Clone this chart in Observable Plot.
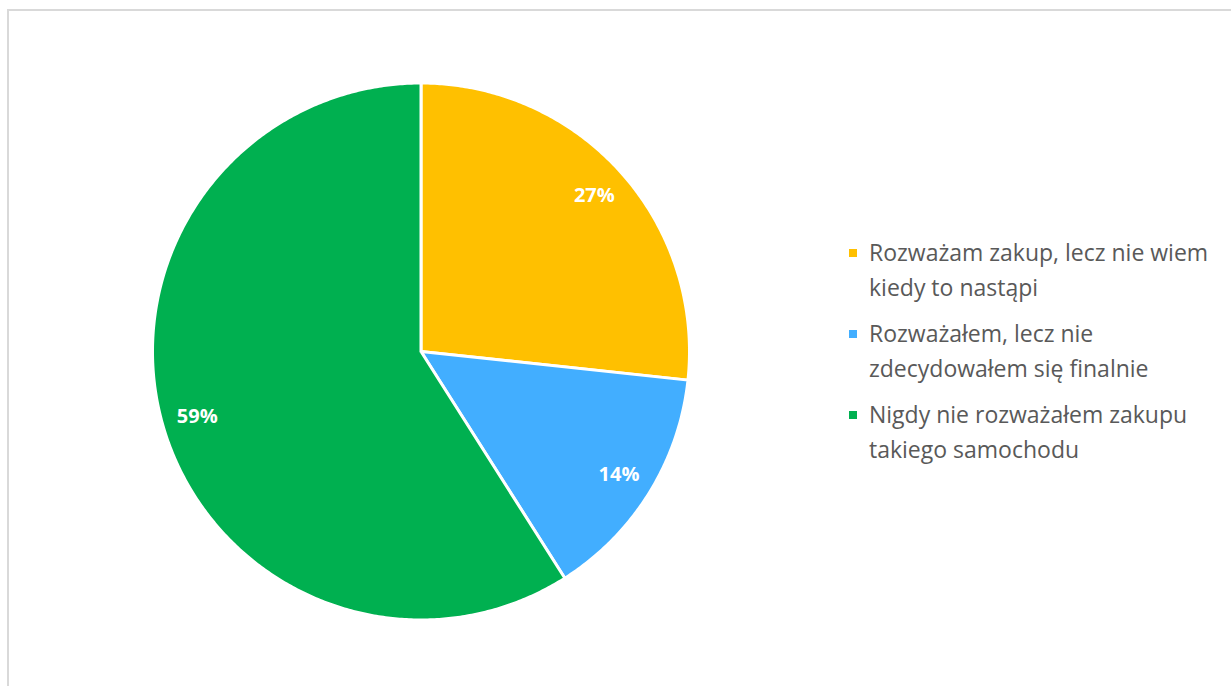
<!DOCTYPE html>
<html>
<head>
<meta charset="utf-8">
<script src="https://cdn.jsdelivr.net/npm/d3@7"></script>
<script src="https://cdn.jsdelivr.net/npm/@observablehq/plot@0.6"></script>
<style>
  html, body { margin: 0; padding: 0; background: #fff; }
  #wrap { position: relative; width: 1231px; height: 686px; overflow: hidden; background: #fff; }
  #frame { position: absolute; left: 7px; top: 9px; width: 1300px; height: 800px; border: 2px solid #d9d9d9; box-sizing: border-box; }
  #chart { position: absolute; left: 0; top: 0; }
  #legend { position: absolute; left: 849px; top: 235px; font-family: "Open Sans", sans-serif; font-size: 23px; color: #595959; }
  .item { position: relative; padding-left: 20px; line-height: 35px; margin-bottom: 11px; width: 380px; white-space: nowrap; }
  .sw { position: absolute; left: 0; top: 14px; width: 8px; height: 8px; }
</style>
</head>
<body>
<div id="wrap">
  <div id="frame"></div>
  <div id="chart"></div>
  <div id="legend"></div>
</div>
<script>
const categories = [
  "Rozważam zakup, lecz nie wiem kiedy to nastąpi",
  "Rozważałem, lecz nie zdecydowałem się finalnie",
  "Nigdy nie rozważałem zakupu takiego samochodu"
];
const legendLines = [
  ["Rozważam zakup, lecz nie wiem", "kiedy to nastąpi"],
  ["Rozważałem, lecz nie", "zdecydowałem się finalnie"],
  ["Nigdy nie rozważałem zakupu", "takiego samochodu"]
];
const values = [26.7, 14.3, 59.0];
const labels = ["27%", "14%", "59%"];
const colors = ["#FFC000", "#42AEFF", "#00B050"];

const arcs = d3.pie().sort(null).value(d => d)(values);

// polygon outlines of slices (derived from the pie angles)
const pts = [];
arcs.forEach((a, i) => {
  const cat = categories[i];
  pts.push({cat, x: 0, y: 0});
  const n = Math.max(2, Math.ceil((a.endAngle - a.startAngle) / (Math.PI / 360)));
  for (let k = 0; k <= n; k++) {
    const t = a.startAngle + (a.endAngle - a.startAngle) * k / n;
    pts.push({cat, x: Math.sin(t), y: Math.cos(t)});
  }
  pts.push({cat, x: 0, y: 0});
});

const labelData = arcs.map((a, i) => {
  const m = (a.startAngle + a.endAngle) / 2;
  return {x: 0.868 * Math.sin(m), y: 0.868 * Math.cos(m), text: labels[i]};
});

const cx = 420.5, cy = 351, R = 268.5;

const chart = Plot.plot({
  width: 1231,
  height: 686,
  margin: 0,
  style: {background: "transparent", overflow: "visible"},
  x: {domain: [-1, 1], range: [cx - R, cx + R], axis: null},
  y: {domain: [-1, 1], range: [cy + R, cy - R], axis: null},
  color: {domain: categories, range: colors},
  marks: [
    Plot.line(pts, {x: "x", y: "y", z: "cat", fill: "cat", stroke: "white", strokeWidth: 3, strokeLinejoin: "round"}),
    Plot.text(labelData, {x: "x", y: "y", text: "text", fill: "white", fontWeight: "bold", fontSize: 20, fontFamily: "Open Sans"})
  ]
});
document.getElementById("chart").appendChild(chart);

const legend = document.getElementById("legend");
categories.forEach((c, i) => {
  const div = document.createElement("div");
  div.className = "item";
  const sw = document.createElement("span");
  sw.className = "sw";
  sw.style.background = colors[i];
  div.appendChild(sw);
  legendLines[i].forEach((l, j) => {
    if (j) div.appendChild(document.createElement("br"));
    div.appendChild(document.createTextNode(l));
  });
  legend.appendChild(div);
});
</script>
</body>
</html>
